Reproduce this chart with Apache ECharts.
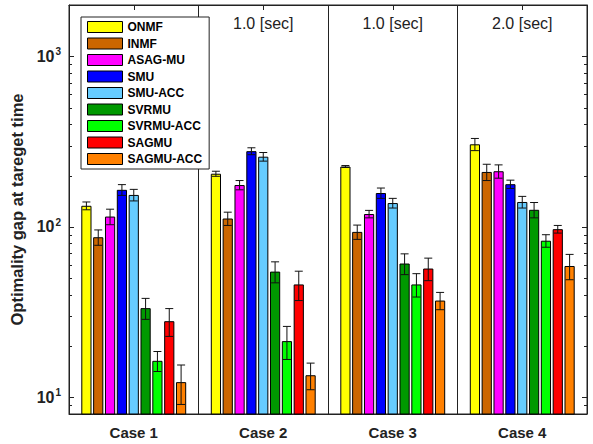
<!DOCTYPE html>
<html><head><meta charset="utf-8">
<script src="https://cdn.jsdelivr.net/npm/echarts@6/dist/echarts.min.js"></script>
<style>html,body{margin:0;padding:0;background:#fff}#c{width:593px;height:444px}</style>
</head><body><div id="c"></div>
<script>
const categories = ['Case 1', 'Case 2', 'Case 3', 'Case 4'];
// first group's label is hidden behind the legend in the reference
const timeLabels = ['', '1.0 [sec]', '1.0 [sec]', '2.0 [sec]'];
const methods = ['ONMF', 'INMF', 'ASAG-MU', 'SMU', 'SMU-ACC', 'SVRMU', 'SVRMU-ACC', 'SAGMU', 'SAGMU-ACC'];

const ONMF        = [133, 205, 226, 305];   const ONMF_ERR        = [7, 7, 3, 25];
const INMF        = [87, 112, 93.5, 210];   const INMF_ERR        = [9, 10, 9, 23];
const ASAG_MU     = [115, 176, 119, 212];   const ASAG_MU_ERR     = [12, 11, 6, 19];
const SMU         = [165, 278, 158, 178];   const SMU_ERR         = [12, 13, 11, 10];
const SMU_ACC     = [154, 258, 138, 140];   const SMU_ACC_ERR     = [12, 15, 9, 11];
const SVRMU       = [33.4, 54.7, 61, 126];  const SVRMU_ERR       = [4.7, 7.7, 8.5, 13];
const SVRMU_ACC   = [16.4, 21.4, 46, 83];   const SVRMU_ACC_ERR   = [2.2, 4.7, 7.2, 7];
const SAGMU       = [28, 46, 57, 97];       const SAGMU_ERR       = [5.2, 9, 8.6, 5];
const SAGMU_ACC   = [12.3, 13.5, 37, 59];   const SAGMU_ACC_ERR   = [3.2, 2.4, 4.3, 10];

const values = [ONMF, INMF, ASAG_MU, SMU, SMU_ACC, SVRMU, SVRMU_ACC, SAGMU, SAGMU_ACC];
const errors = [ONMF_ERR, INMF_ERR, ASAG_MU_ERR, SMU_ERR, SMU_ACC_ERR, SVRMU_ERR, SVRMU_ACC_ERR, SAGMU_ERR, SAGMU_ACC_ERR];

const yMajorTicks = [10, 100, 1000];
const yMinorTicks = [9, 20, 30, 40, 50, 60, 70, 80, 90, 200, 300, 400, 500, 600, 700, 800, 900];
const colors = ['#ffff00', '#cc6600', '#ff00ff', '#0000ff', '#66ccff', '#009900', '#00ff00', '#ff0000', '#ff8000'];

const INK = '#222';
const FONT = '"Liberation Sans", Arial, Helvetica, sans-serif';
const CAT_GAP = 0.19, BAR_GAP = 0.16, N = methods.length;

function barOffset(api, k) {
  const band = api.size([1, 0])[0];
  const avail = band * (1 - CAT_GAP);
  const w = avail / (N + (N - 1) * BAR_GAP);
  return -avail / 2 + k * w * (1 + BAR_GAP) + w / 2;
}

const series = [];
methods.forEach((m, k) => {
  series.push({
    type: 'bar', name: m, data: values[k],
    barGap: (BAR_GAP * 100) + '%', barCategoryGap: (CAT_GAP * 100) + '%',
    itemStyle: { color: colors[k], borderColor: '#000', borderWidth: 1 },
    emphasis: { disabled: true }
  });
});
methods.forEach((m, k) => {
  series.push({
    type: 'custom', name: m + ' err', z: 5,
    data: categories.map((c, i) => [i, values[k][i] - errors[k][i], values[k][i] + errors[k][i]]),
    encode: { x: 0, y: [1, 2] },
    renderItem: function (params, api) {
      const i = api.value(0);
      const pLo = api.coord([i, api.value(1)]);
      const pHi = api.coord([i, api.value(2)]);
      const x = pLo[0] + barOffset(api, k);
      const cap = 4;
      const st = { stroke: '#111', lineWidth: 1 };
      return { type: 'group', children: [
        { type: 'line', shape: { x1: x, y1: pLo[1], x2: x, y2: pHi[1] }, style: st },
        { type: 'line', shape: { x1: x - cap, y1: pLo[1], x2: x + cap, y2: pLo[1] }, style: st },
        { type: 'line', shape: { x1: x - cap, y1: pHi[1], x2: x + cap, y2: pHi[1] }, style: st }
      ]};
    }
  });
});
// minor ticks on left and right frame
series.push({
  type: 'custom', name: 'minor ticks', silent: true, z: 6,
  data: yMinorTicks.map(v => [0, v]),
  encode: { x: 0, y: 1 },
  renderItem: function (params, api) {
    const cs = params.coordSys;
    const y = Math.round(api.coord([0, api.value(1)])[1]) + 0.5;
    const st = { stroke: INK, lineWidth: 1 };
    return { type: 'group', children: [
      { type: 'line', shape: { x1: cs.x, y1: y, x2: cs.x + 3, y2: y }, style: st },
      { type: 'line', shape: { x1: cs.x + cs.width, y1: y, x2: cs.x + cs.width - 3, y2: y }, style: st }
    ]};
  }
});
// time annotations at top of each group
series.push({
  type: 'custom', name: 'time labels', silent: true, z: 3,
  data: timeLabels.map((t, i) => [i, 100]),
  encode: { x: 0, y: 1 },
  renderItem: function (params, api) {
    const t = timeLabels[params.dataIndex];
    if (!t) return null;
    const cs = params.coordSys;
    const x = api.coord([api.value(0), 100])[0];
    return { type: 'text', style: { text: t, x: x, y: cs.y + 18,
      align: 'center', verticalAlign: 'middle', fontSize: 16, fontFamily: FONT, fill: INK } };
  }
});

function yLabel(v) {
  const e = Math.log10(v);
  if (Math.abs(e - Math.round(e)) < 1e-6 && yMajorTicks.indexOf(Math.round(v)) >= 0) {
    return '{b|10}{s|' + Math.round(e) + '}';
  }
  return '';
}

const chart = echarts.init(document.getElementById('c'), null, { renderer: 'svg' });
chart.setOption({
  animation: false,
  backgroundColor: '#fff',
  textStyle: { fontFamily: FONT },
  grid: { left: 69, right: 6, top: 5, bottom: 30, show: true, borderColor: INK, borderWidth: 1, backgroundColor: 'transparent' },
  legend: {
    data: methods, orient: 'vertical', left: 81, top: 17,
    itemWidth: 35, itemHeight: 11, itemGap: 4.5,
    padding: [4, 7, 4, 6], backgroundColor: '#fff', borderColor: INK, borderWidth: 1,
    icon: 'rect', selectedMode: false,
    itemStyle: { borderColor: '#000', borderWidth: 1 },
    textStyle: { fontWeight: 'bold', fontSize: 12, color: '#000', fontFamily: FONT }
  },
  xAxis: [{
    type: 'category', data: categories, position: 'bottom',
    axisLine: { show: true, lineStyle: { color: INK } },
    axisTick: { show: true, inside: true, alignWithLabel: true, length: 5, lineStyle: { color: INK } },
    axisLabel: { fontWeight: 'bold', fontSize: 15, color: INK, margin: 11, fontFamily: FONT },
    splitLine: { show: true, lineStyle: { color: INK, width: 1 } }
  }, {
    type: 'category', data: categories, position: 'top',
    axisLine: { show: true, lineStyle: { color: INK } },
    axisTick: { show: true, inside: true, alignWithLabel: true, length: 5, lineStyle: { color: INK } },
    axisLabel: { show: false }, splitLine: { show: false }
  }],
  yAxis: [{
    type: 'log', logBase: 10, min: 8, max: 2000, position: 'left',
    name: 'Optimality gap at tareget time', nameLocation: 'middle', nameGap: 35,
    nameTextStyle: { fontWeight: 'bold', fontSize: 16.5, color: INK, fontFamily: FONT },
    axisLine: { show: true, lineStyle: { color: INK } },
    axisTick: { show: true, inside: true, length: 5, lineStyle: { color: INK } },
    axisLabel: {
      formatter: yLabel, showMinLabel: false, showMaxLabel: false, margin: 8,
      rich: {
        b: { fontWeight: 'bold', fontSize: 16, color: INK, fontFamily: FONT },
        s: { fontWeight: 'bold', fontSize: 10, color: INK, fontFamily: FONT, padding: [0, 0, 9, 1] }
      }
    },
    splitLine: { show: false }
  }, {
    type: 'log', logBase: 10, min: 8, max: 2000, position: 'right',
    axisLine: { show: true, lineStyle: { color: INK } },
    axisTick: { show: true, inside: true, length: 5, lineStyle: { color: INK } },
    axisLabel: { show: false }, splitLine: { show: false }
  }],
  series: series
});
</script>
</body></html>
